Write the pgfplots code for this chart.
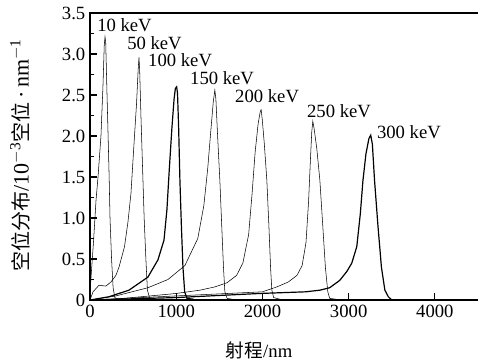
\documentclass[border=0pt]{standalone}
\usepackage{pgfplots}
\pgfplotsset{compat=1.18}
\usepackage{fontspec}
\setmainfont{Liberation Serif}
\newfontfamily\cjk{Noto Sans CJK SC}
\begin{document}
\begin{tikzpicture}
\begin{axis}[
  scale only axis,
  width=294.2pt, height=215.25pt,
  xmin=0, xmax=4550, ymin=0, ymax=3.5,
  axis line style={line width=1.1pt},
  tick style={line width=0.9pt, black},
  major tick length=5pt, minor tick length=3pt,
  xtick={0,1000,2000,3000,4000},
  xticklabels={0,1000,2000,3000,4000},
  ytick={0,0.5,1,1.5,2,2.5,3,3.5},
  yticklabels={0,0.5,1.0,1.5,2.0,2.5,3.0,3.5},
  minor y tick num=1,
  tick pos=left,
  tick align=inside,
  /pgf/number format/assume math mode=true,
  ticklabel style={font=\fontsize{14}{16}\selectfont},
  xlabel={{\cjk 射程}/nm},
  xlabel style={at={(rel axis cs:0.431,-0.174)}, anchor=center, font=\fontsize{14}{16}\selectfont},
  ylabel={{\fontsize{15}{17}\selectfont\cjk 空位分布}/10\textsuperscript{$-$3}{\fontsize{15}{17}\selectfont\cjk 空位}\,·\,nm\textsuperscript{$-$1}},
  ylabel style={at={(rel axis cs:-0.178,0.505)}, anchor=center, rotate=0, font=\fontsize{16.5}{18}\selectfont},
  cycle list={{black, solid, line width=0.9pt, mark=none}},
  clip=false,
]
% 10 keV
\addplot coordinates {(0,0.05)(10,0.25)(40,0.7)(70,1.22)(93,1.5)(127,2.0)(150,2.6)(165,3.1)(174,3.21)(182,3.15)(195,2.6)(210,2.0)(222,1.5)(232,1.0)(250,0.5)(268,0.15)(288,0.03)(330,0.0)};
% 50 keV
\addplot coordinates {(0,0)(35,0.10)(104,0.18)(185,0.17)(243,0.22)(300,0.30)(336,0.40)(400,0.65)(440,0.95)(475,1.3)(510,1.9)(540,2.4)(558,2.8)(568,2.96)(576,2.8)(592,2.2)(610,1.6)(628,1.0)(648,0.5)(666,0.12)(690,0.03)(750,0.01)};
% 100 keV
\addplot coordinates {(0,0)(220,0.04)(452,0.12)(672,0.28)(788,0.49)(858,0.73)(892,1.1)(920,1.6)(950,2.1)(975,2.45)(990,2.58)(1005,2.6)(1015,2.52)(1028,2.1)(1043,1.45)(1060,0.9)(1078,0.4)(1098,0.1)(1125,0.02)(1200,0.01)};
% 150 keV
\addplot coordinates {(0,0)(300,0.05)(672,0.15)(904,0.25)(1100,0.42)(1250,0.75)(1320,1.15)(1365,1.6)(1400,2.05)(1430,2.42)(1448,2.56)(1460,2.45)(1480,2.0)(1506,1.46)(1528,0.9)(1548,0.4)(1564,0.1)(1590,0.02)(1650,0.01)};
% 200 keV
\addplot coordinates {(0,0)(170,0.0)(700,0.05)(1000,0.08)(1275,0.12)(1448,0.16)(1588,0.21)(1700,0.3)(1773,0.45)(1840,0.8)(1880,1.3)(1915,1.8)(1950,2.15)(1975,2.3)(1985,2.32)(1998,2.2)(2022,1.9)(2051,1.46)(2075,0.9)(2094,0.4)(2109,0.12)(2130,0.03)(2200,0.01)};
% 250 keV
\addplot coordinates {(0,0)(1000,0.05)(2000,0.1)(2167,0.16)(2300,0.22)(2400,0.3)(2460,0.42)(2505,0.7)(2535,1.2)(2556,1.7)(2572,2.05)(2584,2.18)(2598,2.1)(2630,1.85)(2666,1.46)(2700,0.9)(2730,0.4)(2758,0.1)(2780,0.02)(2850,0.01)};
% 300 keV
\addplot coordinates {(0,0)(1000,0.03)(1970,0.08)(2500,0.1)(2666,0.12)(2780,0.15)(2897,0.24)(2980,0.35)(3036,0.45)(3094,0.65)(3135,1.05)(3165,1.45)(3200,1.78)(3235,1.97)(3256,2.01)(3275,1.9)(3300,1.46)(3340,0.9)(3380,0.4)(3420,0.12)(3460,0.04)(3500,0.0)(3600,0)};
\node[anchor=west, inner sep=0, font=\fontsize{14}{16}\selectfont] at (axis cs:81,3.35) {10 keV};
\node[anchor=west, inner sep=0, font=\fontsize{14}{16}\selectfont] at (axis cs:429,3.13) {50 keV};
\node[anchor=west, inner sep=0, font=\fontsize{14}{16}\selectfont] at (axis cs:672,2.93) {100 keV};
\node[anchor=west, inner sep=0, font=\fontsize{14}{16}\selectfont] at (axis cs:1159,2.71) {150 keV};
\node[anchor=west, inner sep=0, font=\fontsize{14}{16}\selectfont] at (axis cs:1681,2.48) {200 keV};
\node[anchor=west, inner sep=0, font=\fontsize{14}{16}\selectfont] at (axis cs:2515,2.30) {250 keV};
\node[anchor=west, inner sep=0, font=\fontsize{14}{16}\selectfont] at (axis cs:3326,2.05) {300 keV};
\coordinate (BL) at (axis cs:0,0);
\coordinate (TR) at (axis cs:4500,3.5);
\end{axis}
\pgfresetboundingbox
\useasboundingbox ([shift={(-67.5pt,-47.25pt)}]BL) rectangle ([shift={(0pt,9.75pt)}]TR);
\end{tikzpicture}
\end{document}
